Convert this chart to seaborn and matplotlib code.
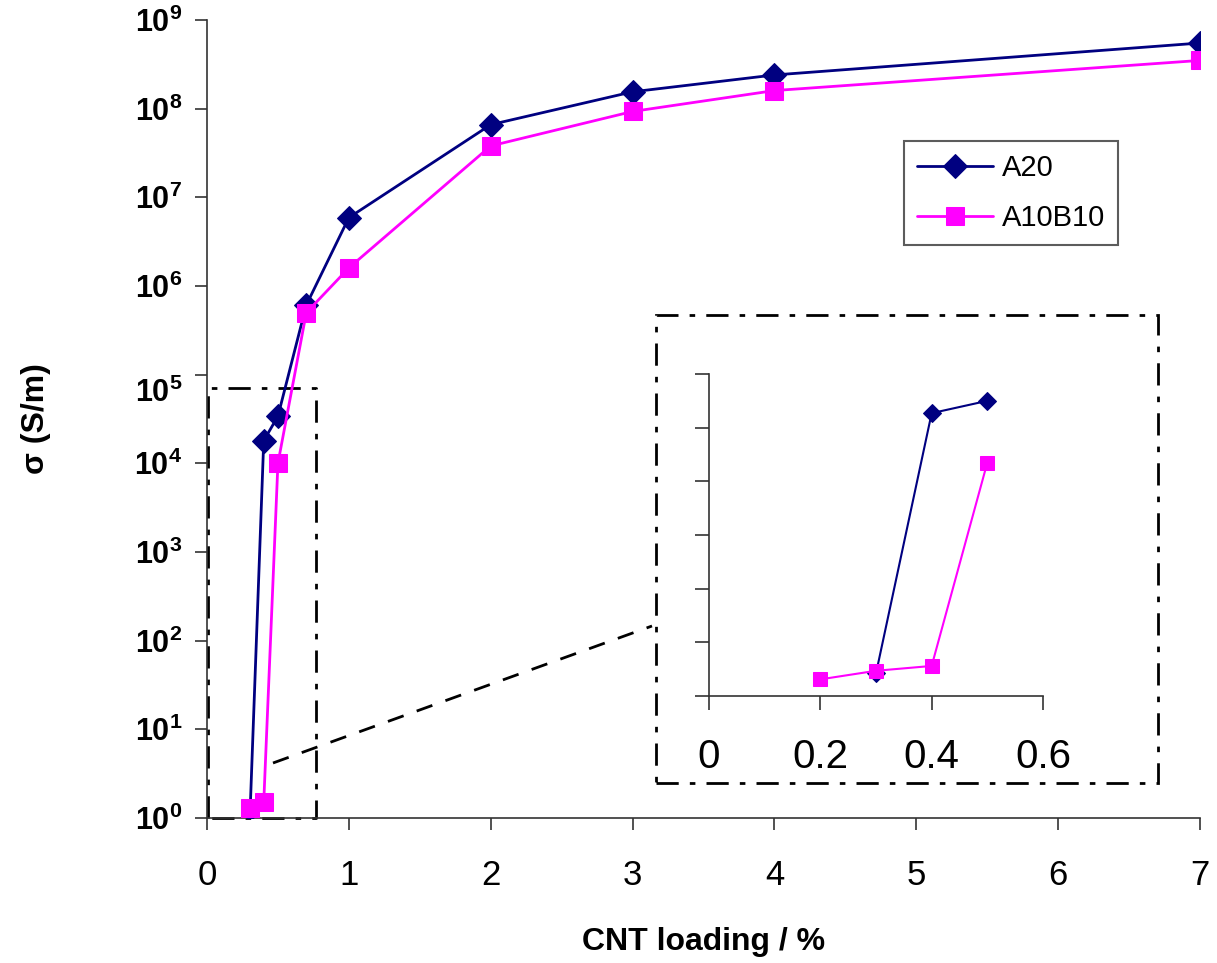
import pandas as pd
import matplotlib.pyplot as plt
import matplotlib.transforms as mtransforms
import seaborn as sns
import numpy as np
from matplotlib.lines import Line2D
from matplotlib.patches import Rectangle

# data
loading_a20 = [0.3, 0.4, 0.5, 0.7, 1, 2, 3, 4, 7]
sigma_a20 = [0.8, 1.8e4, 3.4e4, 6.1e5, 5.9e6, 6.6e7, 1.55e8, 2.4e8, 5.5e8]
loading_ab = [0.2, 0.3, 0.4, 0.5, 0.7, 1, 2, 3, 4, 7]
sigma_ab = [0.75, 1.3, 1.5, 1.0e4, 5.0e5, 1.6e6, 3.8e7, 9.3e7, 1.6e8, 3.5e8]

# inset (zoom on low loading, own unlabelled scale)
inset_x_a20 = [0.3, 0.4, 0.5]
inset_y_a20 = [0.42, 5.27, 5.5]
inset_x_ab = [0.2, 0.3, 0.4, 0.5]
inset_y_ab = [0.31, 0.47, 0.56, 4.35]

x_ticks = [0, 1, 2, 3, 4, 5, 6, 7]
y_exps = list(range(0, 10))
inset_x_ticks = [0, 0.2, 0.4, 0.6]

navy = '#000080'
magenta = '#FF00FF'

sns.set_style('ticks')
plt.rcParams['font.family'] = ['Liberation Sans', 'DejaVu Sans']
plt.rcParams['mathtext.fontset'] = 'custom'
plt.rcParams['mathtext.bf'] = 'Liberation Sans:bold'
plt.rcParams['mathtext.rm'] = 'Liberation Sans'
for k in ['text.color', 'axes.labelcolor', 'xtick.labelcolor', 'ytick.labelcolor']:
    plt.rcParams[k] = 'black'

a20 = pd.DataFrame({'x': loading_a20, 'y': sigma_a20})
ab = pd.DataFrame({'x': loading_ab, 'y': sigma_ab})

W, H = 1217, 963
fig = plt.figure(figsize=(W / 100, H / 100), dpi=100)
ax = fig.add_axes([207 / W, 1 - 818 / H, (1200 - 207) / W, (818 - 20) / H])

sns.lineplot(data=a20, x='x', y='y', ax=ax, color=navy, marker='D',
             markersize=12, markeredgecolor=navy, linewidth=2,
             estimator=None, label='A20', zorder=3)
sns.lineplot(data=ab, x='x', y='y', ax=ax, color=magenta, marker='s',
             markersize=13, markeredgecolor=magenta, linewidth=2,
             estimator=None, label='A10B10', zorder=4)

ax.set_yscale('log')
ax.set_xlim(0, 7)
ax.set_ylim(1, 1e9)
ax.set_xticks(x_ticks)
ax.set_xticklabels([str(t) for t in x_ticks], fontsize=25)
ax.set_yticks([10.0 ** e for e in y_exps])
ax.set_yticklabels([r'$\mathbf{10^{%d}}$' % e for e in y_exps], fontsize=22)
ax.yaxis.set_minor_locator(plt.NullLocator())
ax.tick_params(axis='both', direction='out', length=8.6, width=1.2,
               color='#333333', left=True, bottom=True)
ax.tick_params(axis='y', pad=9)
ax.tick_params(axis='x', pad=21)
# in the original the 10^5 label sits a bit below its tick
shift = mtransforms.ScaledTranslation(0, -15 / 100, fig.dpi_scale_trans)
lab5 = ax.get_yticklabels()[5]
lab5.set_transform(lab5.get_transform() + shift)
for s in ['top', 'right']:
    ax.spines[s].set_visible(False)
for s in ['left', 'bottom']:
    ax.spines[s].set_color('#333333')
    ax.spines[s].set_linewidth(1.2)

ax.set_xlabel('CNT loading / %', fontsize=23, fontweight='bold', labelpad=25)
ax.set_ylabel('σ (S/m)', fontsize=23, fontweight='bold', labelpad=60)

leg = ax.legend(loc='upper left', bbox_to_anchor=(904 / W, 1 - 141 / H),
                bbox_transform=fig.transFigure, fontsize=21, frameon=True,
                fancybox=False, edgecolor='#333333', handlelength=2.6,
                borderpad=0.45, labelspacing=0.75, handletextpad=0.3,
                borderaxespad=0)
leg.get_frame().set_linewidth(1.5)

# dash-dot box marking the zoomed region
ax.plot([0.01, 0.01, 0.77, 0.77, 0.01], [1, 7e4, 7e4, 1, 1], color='black',
        linestyle=(0, (8, 4, 2, 4)), linewidth=2, zorder=2, clip_on=False)

# inset frame and connector (figure pixels)
fig.add_artist(Rectangle((656 / W, 1 - 783 / H), (1158 - 656) / W, (783 - 315) / H,
                         transform=fig.transFigure, fill=False, edgecolor='black',
                         linestyle=(0, (8, 4, 2, 4)), linewidth=2))
fig.add_artist(Line2D([273 / W, 652 / W], [1 - 763 / H, 1 - 626 / H],
                      transform=fig.transFigure, color='black',
                      linestyle=(0, (6, 5)), linewidth=2))

# inset
axi = fig.add_axes([709 / W, 1 - 696 / H, (1043 - 709) / W, (696 - 374) / H])
ia20 = pd.DataFrame({'x': inset_x_a20, 'y': inset_y_a20})
iab = pd.DataFrame({'x': inset_x_ab, 'y': inset_y_ab})
sns.lineplot(data=ia20, x='x', y='y', ax=axi, color=navy, marker='D',
             markersize=9, markeredgecolor=navy, linewidth=1.5,
             estimator=None, legend=False, zorder=3)
sns.lineplot(data=iab, x='x', y='y', ax=axi, color=magenta, marker='s',
             markersize=10, markeredgecolor=magenta, linewidth=1.5,
             estimator=None, legend=False, zorder=4)
axi.set_xlim(0, 0.6)
axi.set_ylim(0, 6)
axi.set_xticks(inset_x_ticks)
axi.set_xticklabels(['0', '0.2', '0.4', '0.6'], fontsize=29)
axi.set_yticks(range(0, 7))
axi.set_yticklabels([])
axi.set_xlabel('')
axi.set_ylabel('')
axi.tick_params(axis='both', direction='out', length=10, width=1.2,
                color='#333333', left=True, bottom=True)
axi.tick_params(axis='x', pad=20)
for s in ['top', 'right']:
    axi.spines[s].set_visible(False)
for s in ['left', 'bottom']:
    axi.spines[s].set_color('#333333')
    axi.spines[s].set_linewidth(1.2)

plt.savefig('out.png', dpi=100)
